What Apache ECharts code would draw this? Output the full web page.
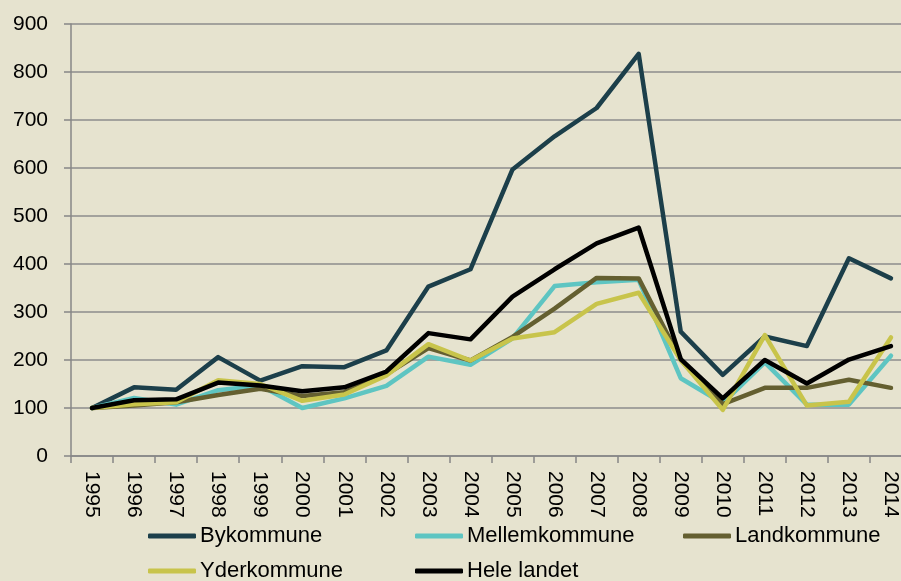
<!DOCTYPE html>
<html>
<head>
<meta charset="utf-8">
<script src="https://cdn.jsdelivr.net/npm/echarts@6/dist/echarts.min.js"></script>
<style>
  html, body { margin: 0; padding: 0; background: #E6E3CF; }
  #chart { width: 901px; height: 581px; }
</style>
</head>
<body>
<div id="chart"></div>
<script>
const years = ['1995','1996','1997','1998','1999','2000','2001','2002','2003','2004',
  '2005','2006','2007','2008','2009','2010','2011','2012','2013','2014']

const bykommune = [100, 143, 138, 206, 157, 187, 185, 220, 353, 389, 597, 666, 725, 838, 259, 169, 249, 229, 412, 370]
const mellemkommune = [100, 121, 107, 137, 147, 100, 120, 146, 207, 190, 245, 354, 362, 367, 162, 110, 195, 107, 107, 209]
const landkommune = [100, 105, 112, 127, 140, 125, 133, 170, 225, 199, 248, 307, 371, 370, 200, 108, 142, 142, 159, 142]
const yderkommune = [100, 108, 112, 158, 150, 115, 128, 168, 233, 199, 245, 258, 317, 340, 200, 96, 252, 105, 113, 247]
const heleLandet = [100, 116, 118, 153, 147, 135, 143, 176, 256, 243, 332, 389, 443, 476, 202, 120, 200, 151, 201, 229]

const yTicks = { min: 0, max: 900, interval: 100 }

const seriesDefs = [
  { name: 'Bykommune', data: bykommune, color: '#1C3F4A' },
  { name: 'Mellemkommune', data: mellemkommune, color: '#5EC5C2' },
  { name: 'Landkommune', data: landkommune, color: '#645F30' },
  { name: 'Yderkommune', data: yderkommune, color: '#C8C44B' },
  { name: 'Hele landet', data: heleLandet, color: '#000000' }
]

const legendPos = [
  { left: 148, top: 525 },
  { left: 415, top: 525 },
  { left: 683, top: 525 },
  { left: 148, top: 560 },
  { left: 415, top: 560 }
]

const fontFam = '"Liberation Sans", Arial, sans-serif'
const axisGray = '#878787'

const chart = echarts.init(document.getElementById('chart'))

const option = {
  backgroundColor: '#E6E3CF',
  animation: false,
  legend: seriesDefs.map((s, i) => ({
    left: legendPos[i].left,
    top: legendPos[i].top,
    data: [s.name],
    icon: 'roundRect',
    itemWidth: 48,
    itemHeight: 5,
    itemGap: 4,
    padding: 0,
    textStyle: { fontFamily: fontFam, fontSize: 22, color: '#000', padding: [0, 0, 0, -1] }
  })),
  grid: {
    left: 71,
    right: -11,
    top: 24,
    bottom: 125,
    containLabel: false,
    outerBoundsMode: 'none'
  },
  xAxis: {
    type: 'category',
    data: years,
    boundaryGap: true,
    axisLine: { lineStyle: { color: axisGray, width: 1.5 } },
    axisTick: { show: true, length: 7, lineStyle: { color: axisGray, width: 1.5 } },
    axisLabel: {
      rotate: -90,
      interval: 0,
      margin: 15,
      fontFamily: fontFam,
      fontSize: 21,
      color: '#000'
    }
  },
  yAxis: {
    type: 'value',
    min: yTicks.min,
    max: yTicks.max,
    interval: yTicks.interval,
    axisLine: { show: true, lineStyle: { color: axisGray, width: 1.5 } },
    axisTick: { show: true, length: 7, lineStyle: { color: axisGray, width: 1.5 } },
    axisLabel: { margin: 23, fontFamily: fontFam, fontSize: 21, color: '#000' },
    splitLine: { lineStyle: { color: '#8C8C8C', width: 1.5 } }
  },
  series: seriesDefs.map(s => ({
    name: s.name,
    type: 'line',
    data: s.data,
    symbol: 'none',
    color: s.color,
    lineStyle: { width: 4.5, color: s.color, cap: 'round', join: 'round' }
  }))
}

chart.setOption(option)
</script>
</body>
</html>
